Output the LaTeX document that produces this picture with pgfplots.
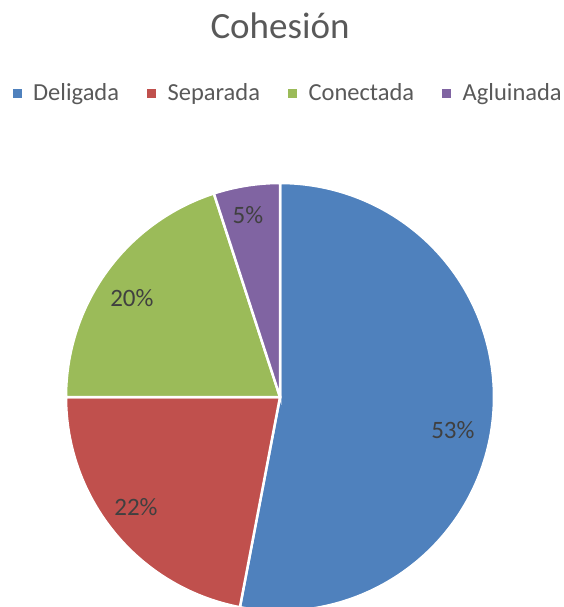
\documentclass[border=0pt]{standalone}
\usepackage{pgfplots}
\pgfplotsset{compat=1.18}
\usepackage{pgfplotstable}
\usepackage{fontspec}
\setmainfont{Carlito}
\definecolor{cblue}{HTML}{4F81BD}
\definecolor{cred}{HTML}{C0504D}
\definecolor{cgreen}{HTML}{9BBB59}
\definecolor{cpurple}{HTML}{8064A2}
\definecolor{ctext}{HTML}{595959}
\definecolor{clabel}{HTML}{404040}

\pgfplotstableread{
name value lx ly
Deligada 53 0.808 -0.154
Separada 22 -0.673 -0.514
Conectada 20 -0.692 0.463
Agluinada 5 -0.150 0.850
}\piedata

\newcommand\getv[3]{\pgfplotstablegetelem{#1}{#2}\of\piedata\global\let#3\pgfplotsretval}

\begin{document}
\begin{tikzpicture}
\useasboundingbox (0pt,0pt) rectangle (563pt,-607pt);
\getv{0}{value}\vA \getv{1}{value}\vB \getv{2}{value}\vC \getv{3}{value}\vD
\getv{0}{lx}\xA \getv{1}{lx}\xB \getv{2}{lx}\xC \getv{3}{lx}\xD
\getv{0}{ly}\yA \getv{1}{ly}\yB \getv{2}{ly}\yC \getv{3}{ly}\yD
\pgfmathsetmacro\aA{90}
\pgfmathsetmacro\aB{\aA-3.6*\vA}
\pgfmathsetmacro\aC{\aB-3.6*\vB}
\pgfmathsetmacro\aD{\aC-3.6*\vC}
\pgfmathsetmacro\aE{\aD-3.6*\vD}
\node[font=\fontsize{37}{44}\selectfont, text=ctext, anchor=base] at (280pt,-39pt) {Cohesión};
\begin{axis}[
  x=214pt, y=214pt, anchor=origin, at={(280pt,-397pt)},
  hide axis, xmin=-1, xmax=1, ymin=-1, ymax=1, clip=false,
  legend columns=4,
  legend image code/.code={\path (0pt,0pt) -- (17pt,0pt); \fill[#1,draw=none] (0pt,-4.5pt) rectangle (9pt,4.5pt);},
  legend style={at={(axis description cs:0.518,1.210)}, anchor=center,
    draw=none, fill=none, font=\fontsize{24.5}{29}\selectfont, text=ctext,
    /tikz/every even column/.append style={column sep=25pt}},
  legend cell align=left,
]
\addplot[fill=cblue, draw=white, line width=2.5pt, domain=\aB:\aA, samples=150, variable=\t] ({cos(\t)},{sin(\t)}) -- (axis cs:0,0) -- cycle;
\addlegendentry{Deligada}
\addplot[fill=cred, draw=white, line width=2.5pt, domain=\aC:\aB, samples=80, variable=\t] ({cos(\t)},{sin(\t)}) -- (axis cs:0,0) -- cycle;
\addlegendentry{Separada}
\addplot[fill=cgreen, draw=white, line width=2.5pt, domain=\aD:\aC, samples=80, variable=\t] ({cos(\t)},{sin(\t)}) -- (axis cs:0,0) -- cycle;
\addlegendentry{Conectada}
\addplot[fill=cpurple, draw=white, line width=2.5pt, domain=\aE:\aD, samples=30, variable=\t] ({cos(\t)},{sin(\t)}) -- (axis cs:0,0) -- cycle;
\addlegendentry{Agluinada}
\node[font=\fontsize{25}{30}\selectfont, text=clabel] at (axis cs:\xA,\yA) {\vA\%};
\node[font=\fontsize{25}{30}\selectfont, text=clabel] at (axis cs:\xB,\yB) {\vB\%};
\node[font=\fontsize{25}{30}\selectfont, text=clabel] at (axis cs:\xC,\yC) {\vC\%};
\node[font=\fontsize{25}{30}\selectfont, text=clabel] at (axis cs:\xD,\yD) {\vD\%};
\end{axis}
\end{tikzpicture}
\end{document}
